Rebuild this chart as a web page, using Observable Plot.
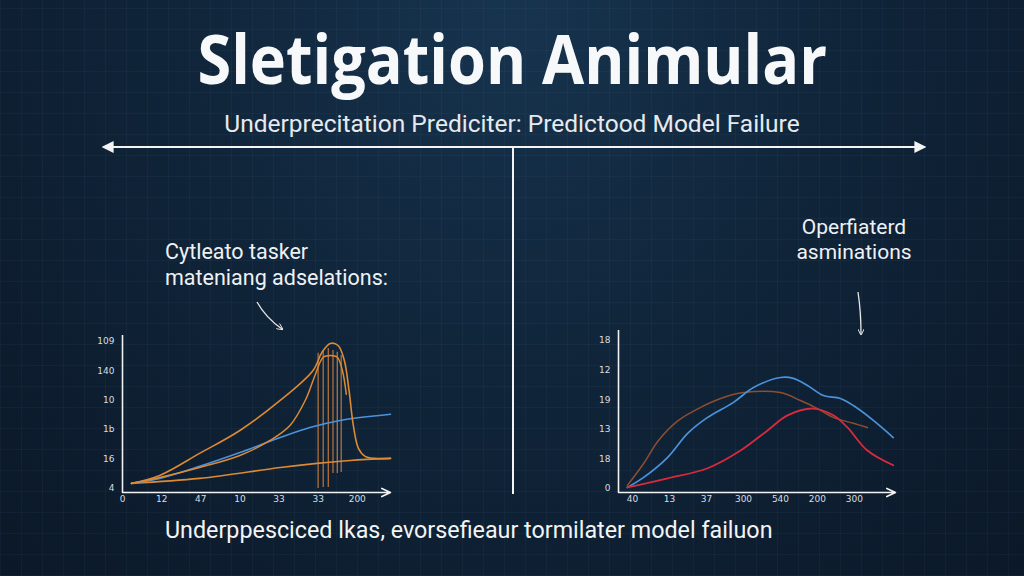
<!DOCTYPE html>
<html><head><meta charset="utf-8">
<script src="https://cdn.jsdelivr.net/npm/d3@7"></script>
<script src="https://cdn.jsdelivr.net/npm/@observablehq/plot@0.6"></script>
<style>
html,body{margin:0;padding:0;}
#page{position:relative;width:1024px;height:576px;overflow:hidden;
 background:
  repeating-linear-gradient(0deg, rgba(120,160,200,0.05) 0 1px, transparent 1px 21px),
  repeating-linear-gradient(90deg, rgba(120,160,200,0.05) 0 1px, transparent 1px 21px),
  radial-gradient(ellipse at 50% 0%, #17344f 0%, #10253a 45%, #0b1828 100%);
 font-family:Roboto, "Open Sans", sans-serif;color:#f2f4f6;}
.t{position:absolute;white-space:nowrap;}
#title{left:0;width:1024px;text-align:center;top:18px;font-family:"Open Sans";font-weight:700;font-size:68px;line-height:80px;color:#f7f8fa;transform:scaleX(0.9);transform-origin:514px 0;}
#subtitle{left:0;width:1024px;text-align:center;top:109px;font-size:24.5px;line-height:30px;color:#e6eaee;}
#annL{left:165px;top:239px;font-size:21.5px;line-height:26px;color:#eef1f4;}
#annR{left:754px;width:200px;text-align:center;top:215px;font-size:21px;line-height:25px;color:#eef1f4;}
#caption{left:165px;top:515px;font-size:23.3px;line-height:30px;color:#f2f4f6;}
.chart{position:absolute;}
#deco{position:absolute;left:0;top:0;}
</style></head>
<body><div id="page">
<svg id="deco" width="1024" height="576">
 <defs><marker id="ah" viewBox="0 0 10 10" refX="8" refY="5" markerWidth="6" markerHeight="6" orient="auto-start-reverse"><path d="M0,0 L10,5 L0,10 z" fill="#f4f4f4"/></marker>
 <marker id="ah2" viewBox="0 0 10 10" refX="8" refY="5" markerWidth="5" markerHeight="5" orient="auto"><path d="M0,0 L10,5 L0,10" fill="none" stroke="#e8e8e8" stroke-width="1.5"/></marker></defs>
 <line x1="104" y1="147" x2="924" y2="147" stroke="#f4f4f4" stroke-width="2" marker-start="url(#ah)" marker-end="url(#ah)"/>
 <line x1="513" y1="147" x2="513" y2="494" stroke="#f4f4f4" stroke-width="2"/>
 <path d="M257,302 Q266,318 282,329" fill="none" stroke="#e8e8e8" stroke-width="1.3" marker-end="url(#ah2)"/>
 <path d="M858,292 Q861,312 861,334" fill="none" stroke="#e8e8e8" stroke-width="1.3" marker-end="url(#ah2)"/>
</svg>
<div id="title" class="t">Sletigation Animular</div>
<div id="subtitle" class="t">Underprecitation Prediciter: Predictood Model Failure</div>
<div id="annL" class="t">Cytleato tasker<br>mateniang adselations:</div>
<div id="annR" class="t">Operfiaterd<br>asminations</div>
<div id="caption" class="t">Underppesciced lkas, evorsefieaur tormilater model failuon</div>
<div id="left" class="chart" style="left:80px;top:325px"></div>
<div id="right" class="chart" style="left:585px;top:325px"></div>
</div>
<script>
// ---- Left chart data ----
const leftXTicks = ["0","12","47","10","33","33","200"];
const leftYTicks = ["4","16","1b","10","140","109"];
const leftBroad = [[0.23,0.17],[0.95,0.44],[1.97,1.19],[3.0,1.97],[4.03,2.99],[4.87,4.01],[5.1,4.63],[5.31,4.93],[5.51,4.86],[5.67,4.35],[5.79,3.33],[5.9,2.14],[6.03,1.36],[6.2,1.09],[6.46,1.02],[6.85,1.02]];
const leftSteep = [[0.23,0.17],[0.95,0.37],[1.97,0.71],[3.0,1.12],[3.77,1.63],[4.28,2.14],[4.67,2.99],[4.92,3.84],[5.13,4.46],[5.31,4.52],[5.49,4.46],[5.62,4.01],[5.72,3.2]];
const leftLow = [[0.23,0.17],[1.97,0.34],[4.03,0.71],[4.97,0.85],[5.82,0.95],[6.85,1.02]];
const leftBlue = [[0.23,0.17],[0.95,0.34],[1.97,0.75],[3.0,1.22],[4.03,1.73],[4.79,2.07],[5.56,2.31],[6.85,2.52]];
const leftSpikeX = [5.0,5.13,5.26,5.38,5.49,5.59];
const leftSpikeLow = [0,0.03,0.03,0.51,0.51,0.54];
const leftSpikeHigh = [4.6,4.69,4.76,4.69,4.63,4.52];

// ---- Right chart data ----
const rightXTicks = ["40","13","37","300","540","200","300"];
const rightYTicks = ["0","18","13","19","12","18"];
const rightBrown = [[-0.14,0.1],[0.3,0.84],[0.7,1.62],[1.24,2.3],[1.84,2.74],[2.38,3.04],[3.0,3.24],[4.0,3.24],[4.54,2.97],[5.0,2.7],[5.43,2.4],[5.97,2.2],[6.35,2.06]];
const rightBlue = [[-0.14,0.03],[0.3,0.37],[0.95,1.05],[1.49,1.86],[2.03,2.4],[2.73,2.91],[3.27,3.41],[4.0,3.75],[4.35,3.72],[4.73,3.48],[5.16,3.14],[5.62,3.04],[5.97,2.8],[6.51,2.3],[7.05,1.72]];
const rightRed = [[-0.14,0.03],[0.95,0.34],[2.03,0.68],[2.92,1.28],[3.65,1.96],[4.19,2.47],[4.89,2.7],[5.43,2.47],[5.81,2.06],[6.35,1.28],[7.05,0.78]];

const ORANGE = "#dd8a33", BLUE = "#4b92dc", BROWN = "#8c4f31", RED = "#d72a3c", AX = "#f2f2f2";

function axesMarks(xd, yd, xt, yt) {
  return [
    Plot.ruleX([xd[0]], {y1: yd[0], y2: yd[1], stroke: AX, strokeWidth: 1.6}),
    Plot.arrow([0], {x1: xd[0], y1: yd[0], x2: xd[1], y2: yd[0], stroke: AX, strokeWidth: 1.6, headLength: 9, headAngle: 50}),
    Plot.axisX({ticks: d3.range(xt.length), tickFormat: i => xt[i], tickSize: 0, tickPadding: 3, fontSize: 9, color: "#d8dde2", anchor: "bottom"}),
    Plot.axisY({ticks: d3.range(yt.length), tickFormat: i => yt[i], tickSize: 0, tickPadding: 8, fontSize: 9, color: "#d8dde2", anchor: "left"})
  ];
}
const line = (d, c, w=1.5) => Plot.line(d, {x: d => d[0], y: d => d[1], stroke: c, strokeWidth: w, curve: "catmull-rom"});

const lxd = [0, 6.85], lyd = [-0.14, 5.2];
const leftPlot = Plot.plot({
  width: 320, height: 185, marginLeft: 42, marginRight: 10, marginTop: 10, marginBottom: 18,
  style: {background: "transparent", color: "#d8dde2", fontFamily: "DejaVu Sans"},
  x: {domain: lxd, axis: null}, y: {domain: lyd, axis: null},
  marks: [
    ...axesMarks(lxd, lyd, leftXTicks, leftYTicks),
    Plot.ruleX(leftSpikeX, {x: d => d, y1: (d,i) => leftSpikeLow[i], y2: (d,i) => leftSpikeHigh[i], stroke: "#b0703a", strokeWidth: 1.3}),
    line(leftLow, ORANGE, 1.6),
    line(leftBlue, BLUE, 1.6),
    line(leftSteep, ORANGE, 1.5),
    line(leftBroad, ORANGE, 1.6)
  ]
});
document.getElementById("left").appendChild(leftPlot);

const rxd = [-0.38, 7.11], ryd = [-0.14, 5.34];
const rightPlot = Plot.plot({
  width: 320, height: 185, marginLeft: 33, marginRight: 10, marginTop: 5, marginBottom: 18,
  style: {background: "transparent", color: "#d8dde2", fontFamily: "DejaVu Sans"},
  x: {domain: rxd, axis: null}, y: {domain: ryd, axis: null},
  marks: [
    ...axesMarks(rxd, ryd, rightXTicks, rightYTicks),
    line(rightBrown, BROWN, 1.5),
    line(rightBlue, BLUE, 1.7),
    line(rightRed, RED, 1.8)
  ]
});
document.getElementById("right").appendChild(rightPlot);
</script>
</body></html>
